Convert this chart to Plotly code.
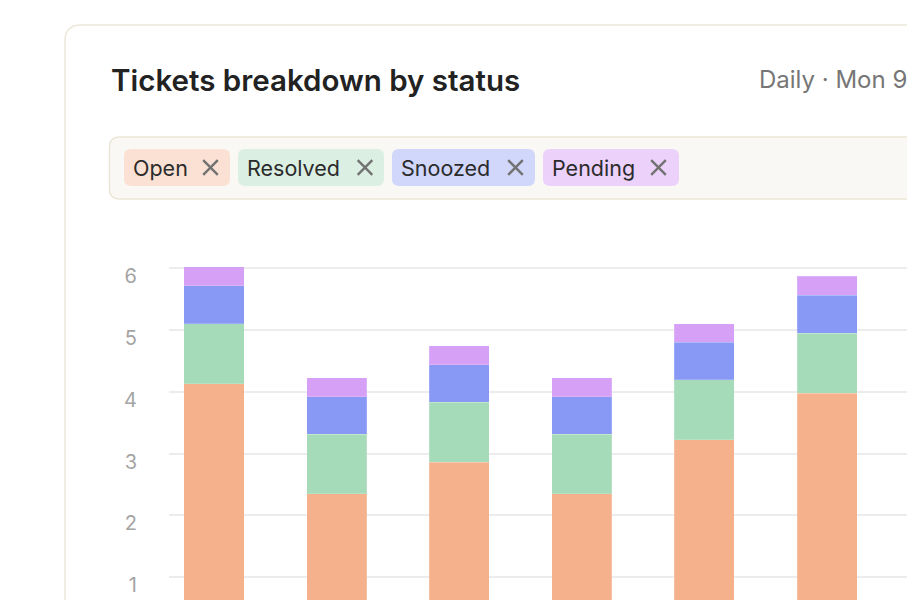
import plotly.graph_objects as go

# ---- data ----
days = ["Mon 9", "Tue 10", "Wed 11", "Thu 12", "Fri 13", "Sat 14"]
open_vals = [4.13, 2.35, 2.86, 2.35, 3.22, 3.97]
resolved_vals = [0.97, 0.96, 0.97, 0.96, 0.97, 0.97]
snoozed_vals = [0.61, 0.61, 0.60, 0.61, 0.61, 0.62]
pending_vals = [0.31, 0.30, 0.31, 0.30, 0.30, 0.30]
series_names = ["Open", "Resolved", "Snoozed", "Pending"]
bar_colors = ["#f4b18b", "#a6dbb9", "#8898f5", "#d6a0f6"]
chip_colors = ["#fbe1d3", "#dcefe3", "#d1d6fb", "#ecd1fa"]
y_ticks = [1, 2, 3, 4, 5, 6]

# ---- geometry (screen pixels; page margin removed) ----
FW, FH = 907, 600
L, T = 169, 230              # plot area left / top
W, H = FW - L, FH - T


def px(x):
    return (x - L) / W


def py(y):
    return (FH - y) / H


def rrect(x0, y0, x1, y1, r):
    pts = [
        ("M", (x0 + r, y0)),
        ("L", (x1 - r, y0)),
        ("Q", (x1, y0), (x1, y0 + r)),
        ("L", (x1, y1 - r)),
        ("Q", (x1, y1), (x1 - r, y1)),
        ("L", (x0 + r, y1)),
        ("Q", (x0, y1), (x0, y1 - r)),
        ("L", (x0, y0 + r)),
        ("Q", (x0, y0), (x0 + r, y0)),
    ]
    s = ""
    for p in pts:
        coords = " ".join(f"{px(a):.5f},{py(b):.5f}" for a, b in p[1:])
        s += f"{p[0]} {coords} "
    return s + "Z"


fig = go.Figure()
for name, vals, col in zip(series_names,
                           [open_vals, resolved_vals, snoozed_vals, pending_vals],
                           bar_colors):
    fig.add_trace(go.Bar(
        x=list(range(len(days))), y=vals, name=name,
        marker=dict(color=col, line=dict(color="rgba(255,255,255,0.18)", width=1)),
        hoverinfo="skip",
    ))

shapes = []
# card
shapes.append(dict(type="path", path=rrect(65, 25, 990, 700, 16), xref="paper", yref="paper",
                   fillcolor="#ffffff", line=dict(color="#ebe8d9", width=1.5), layer="below"))
# filter box
shapes.append(dict(type="path", path=rrect(109.5, 137, 990, 199, 10), xref="paper", yref="paper",
                   fillcolor="#f9f8f4", line=dict(color="#ebe7d8", width=1.5), layer="below"))

chip_x = [(124, 230), (238, 384), (392, 535), (543, 679)]
text_x = [132, 246, 400, 550.5]
x_center = [210.5, 365, 515.5, 658.5]
annotations = []
for (cx0, cx1), tx, xc, name, cc in zip(chip_x, text_x, x_center, series_names, chip_colors):
    shapes.append(dict(type="path", path=rrect(cx0, 149, cx1, 186, 7), xref="paper", yref="paper",
                       fillcolor=cc, line=dict(width=0), layer="below"))
    annotations.append(dict(text=name, x=px(tx - 1), y=py(167.5), xref="paper", yref="paper",
                            xanchor="left", yanchor="middle", showarrow=False,
                            font=dict(family="Inter", size=21.5, color="#2b2b2b")))
    # close icon
    h = 7.3
    for dx0, dy0, dx1, dy1 in [(-h, -h, h, h), (-h, h, h, -h)]:
        shapes.append(dict(type="line", xref="paper", yref="paper",
                           x0=px(xc + dx0), y0=py(167.5 + dy0), x1=px(xc + dx1), y1=py(167.5 + dy1),
                           line=dict(color="#727272", width=2.4), layer="above"))

annotations.append(dict(text="Tickets breakdown by status", x=px(109), y=py(80), xref="paper", yref="paper",
                        xanchor="left", yanchor="middle", showarrow=False,
                        font=dict(family="Inter", size=29.5, color="#222222", weight=600)))
annotations.append(dict(text="Daily · Mon 9", x=px(757), y=py(80), xref="paper", yref="paper",
                        xanchor="left", yanchor="middle", showarrow=False,
                        font=dict(family="Inter", size=24, color="#767676")))

y0_px = 639.2   # screen y of value 0
unit = 61.9     # px per unit
fig.update_layout(
    width=FW, height=FH,
    template="none",
    barmode="stack",
    bargap=0.51,
    showlegend=False,
    paper_bgcolor="#ffffff",
    plot_bgcolor="rgba(0,0,0,0)",
    margin=dict(l=L, r=0, t=T, b=0, pad=0, autoexpand=False),
    shapes=shapes,
    annotations=annotations,
    xaxis=dict(type="linear", range=[-0.367, 5.652], showgrid=False, zeroline=False,
               showticklabels=False, showline=False, ticks="", automargin=False),
    yaxis=dict(range=[(y0_px - FH) / unit, (y0_px - T) / unit], tickvals=y_ticks,
               showgrid=True, gridcolor="#ececec", gridwidth=1.5, zeroline=False,
               showline=False, ticks="", automargin=False,
               ticklabelstandoff=31, ticklabelshift=8,
               tickfont=dict(family="Inter", size=20, color="#a4a4a4")),
    font=dict(family="Inter"),
)

fig.write_html(
    "out.html",
    config={"displayModeBar": False},
    post_script="document.body.style.margin='0';document.body.style.overflow='hidden';",
)
